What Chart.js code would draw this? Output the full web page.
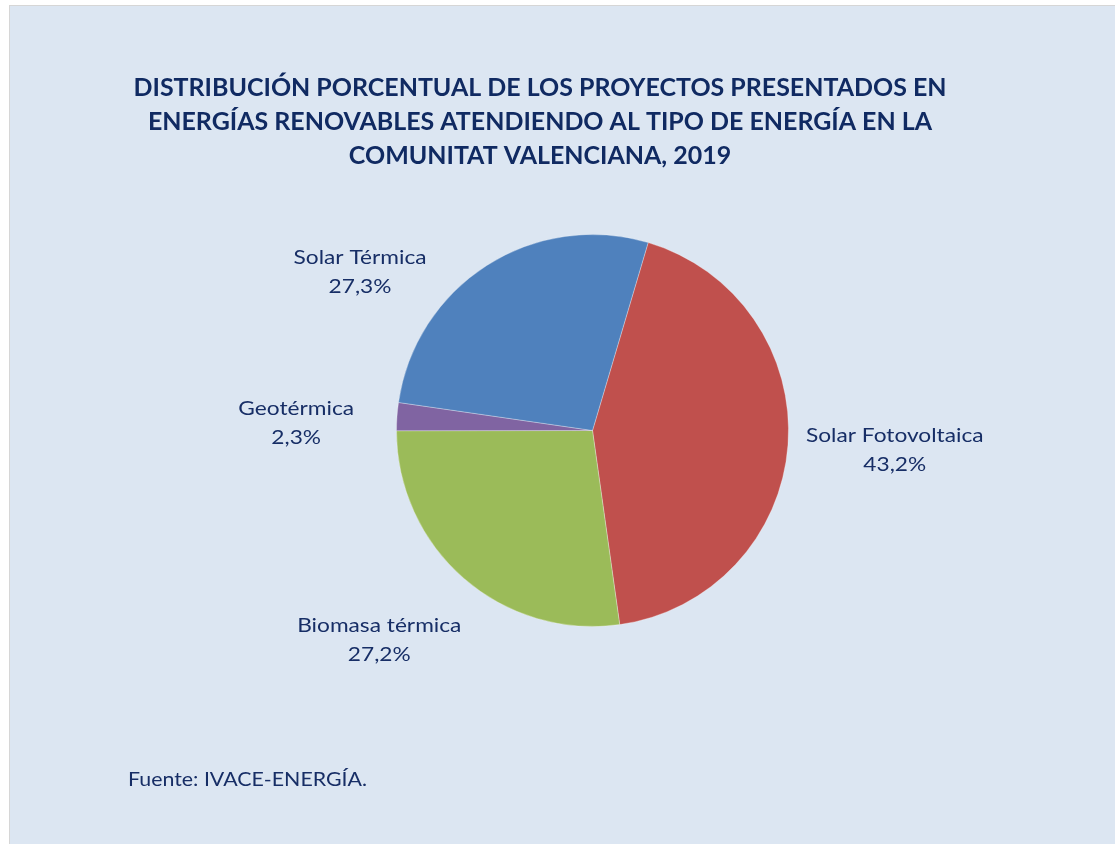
<!DOCTYPE html>
<html>
<head>
<meta charset="utf-8">
<script src="https://cdn.jsdelivr.net/npm/chart.js@4.4.1/dist/chart.umd.min.js"></script>
<style>
  html, body { margin: 0; padding: 0; background: #ffffff; }
  #wrap { position: relative; width: 1115px; height: 844px; }
</style>
</head>
<body>
<div id="wrap"><canvas id="pieChart" width="1115" height="844"></canvas></div>
<script>
// datos del gráfico
const categorias = ['Solar Fotovoltaica', 'Biomasa térmica', 'Geotérmica', 'Solar Térmica'];
const porcentajes = [43.2, 27.2, 2.3, 27.3];
const colores = ['#c0504d', '#9bbb59', '#8064a2', '#4f81bd'];
const titulo = [
    'DISTRIBUCIÓN PORCENTUAL DE LOS PROYECTOS PRESENTADOS EN',
    'ENERGÍAS RENOVABLES ATENDIENDO AL TIPO DE ENERGÍA EN LA',
    'COMUNITAT VALENCIANA, 2019'
];
const fuente = 'Fuente: IVACE-ENERGÍA.';

const FUENTE_TXT = 'Lato, "Open Sans", sans-serif';
const AZUL_TXT = '#172e66';

// fondo del panel
const fondoPanel = {
    id: 'fondoPanel',
    beforeDraw(chart) {
        const ctx = chart.ctx;
        ctx.save();
        ctx.fillStyle = '#ffffff';
        ctx.fillRect(0, 0, chart.width, chart.height);
        ctx.fillStyle = '#dce6f2';
        ctx.fillRect(9.5, 5.5, chart.width, chart.height);
        ctx.strokeStyle = '#d6d6d6';
        ctx.lineWidth = 1;
        ctx.strokeRect(9.5, 5.5, chart.width + 10, chart.height + 10);
        ctx.restore();
    }
};

// texto escalado en horizontal (imitando Calibri)
function textoEscalado(ctx, txt, x, y, sx, align) {
    ctx.save();
    ctx.translate(x, y);
    ctx.scale(sx, 1);
    ctx.textAlign = align;
    ctx.fillText(txt, 0, 0);
    ctx.restore();
}

// título y fuente
const textos = {
    id: 'textos',
    afterDraw(chart) {
        const ctx = chart.ctx;
        ctx.save();
        ctx.fillStyle = '#102a62';
        ctx.textBaseline = 'alphabetic';
        ctx.font = 'bold 24px ' + FUENTE_TXT;
        const sx = 813 / ctx.measureText(titulo[0]).width;
        [96, 130, 164].forEach((y, i) => textoEscalado(ctx, titulo[i], 540, y, sx, 'center'));

        ctx.fillStyle = AZUL_TXT;
        ctx.font = '19px ' + FUENTE_TXT;
        const sx2 = 239 / ctx.measureText(fuente).width;
        textoEscalado(ctx, fuente, 128, 786, sx2, 'left');
        ctx.restore();
    }
};

// etiquetas de cada sector
const etiquetas = {
    id: 'etiquetas',
    afterDatasetsDraw(chart, args, opts) {
        const ctx = chart.ctx;
        const meta = chart.getDatasetMeta(0);
        ctx.save();
        ctx.fillStyle = AZUL_TXT;
        ctx.textBaseline = 'alphabetic';
        ctx.font = '19px ' + FUENTE_TXT;
        const sx = 133 / ctx.measureText('Solar Térmica').width;
        meta.data.forEach((arc, i) => {
            const p = arc.getProps(['x', 'y', 'startAngle', 'endAngle', 'outerRadius'], true);
            const mid = (p.startAngle + p.endAngle) / 2;
            const r = p.outerRadius * opts.factor;
            const cx = p.x + Math.cos(mid) * r + opts.ajuste[i][0];
            const cy = p.y + Math.sin(mid) * r + opts.ajuste[i][1];
            const pct = porcentajes[i].toFixed(1).replace('.', ',') + '%';
            textoEscalado(ctx, categorias[i], cx, cy - 7.5, sx, 'center');
            textoEscalado(ctx, pct, cx, cy + 21.5, sx, 'center');
        });
        ctx.restore();
    }
};

new Chart(document.getElementById('pieChart'), {
    type: 'pie',
    data: {
        labels: categorias,
        datasets: [{
            data: porcentajes,
            backgroundColor: colores,
            borderColor: 'rgba(255,255,255,0.3)',
            borderWidth: 1
        }]
    },
    options: {
        responsive: false,
        animation: false,
        rotation: 16.5,
        layout: { padding: { left: 396, right: 326, top: 234, bottom: 217 } },
        plugins: {
            legend: { display: false },
            tooltip: { enabled: false },
            etiquetas: {
                factor: 1.48,
                ajuste: [[13, -3], [-23, -9.5], [-7, 12.6], [-76, 85]]
            }
        }
    },
    plugins: [fondoPanel, textos, etiquetas]
});
</script>
</body>
</html>
